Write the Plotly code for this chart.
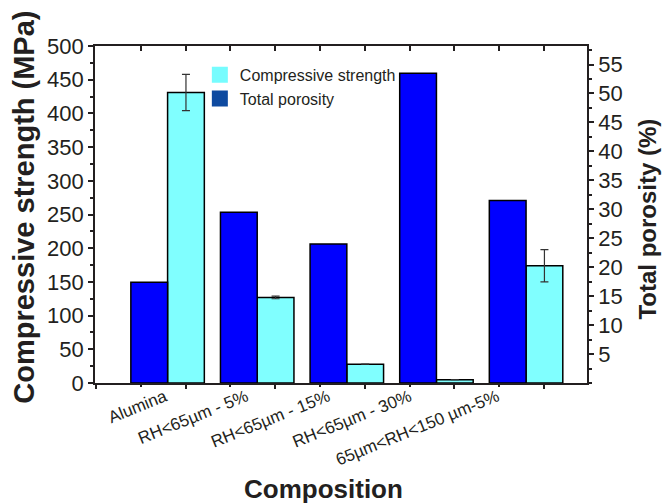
import plotly.graph_objects as go

categories = ["Alumina", "RH<65µm - 5%", "RH<65µm - 15%", "RH<65µm - 30%", "65µm<RH<150 µm-5%"]
strength = [431, 127, 28, 5, 174]
strength_err = [27, 2, 0, 0, 24]
porosity = [17.4, 29.5, 24.0, 53.5, 31.5]

left_ticks = list(range(0, 501, 50))
right_ticks = list(range(5, 56, 5))

TXT = "#231F20"
FONT = "Liberation Sans, Arial, sans-serif"
BW = 0.41

# layout-only: where the slanted category labels sit along the axis (in category units)
label_shift = [-0.03, -0.12, -0.21, -0.30, -0.32]
label_pos = [i + s for i, s in enumerate(label_shift)]

fig = go.Figure()

fig.add_trace(go.Bar(
    x=categories, y=porosity, yaxis="y2", name="Total porosity",
    marker=dict(color="#0000FF", line=dict(color="#000000", width=1.5)),
    width=BW, offset=-BW, showlegend=False,
))
fig.add_trace(go.Bar(
    x=categories, y=strength, yaxis="y", name="Compressive strength",
    marker=dict(color="#80FFFF", line=dict(color="#000000", width=1.5)),
    width=BW, offset=0, showlegend=False,
    error_y=dict(type="data", array=strength_err, visible=True,
                 color="#333333", thickness=1.2, width=4),
))

# legend entries
fig.add_trace(go.Scatter(x=[None], y=[None], mode="markers", name="Compressive strength",
                         marker=dict(symbol="square", size=16, color="#76FCFE")))
fig.add_trace(go.Scatter(x=[None], y=[None], mode="markers", name="Total porosity",
                         marker=dict(symbol="square", size=16, color="#0E4AA0")))

# dummy traces for the helper axes
for ax in ("x2", "x3", "x4"):
    fig.add_trace(go.Scatter(x=[None], y=[None], xaxis=ax, yaxis="y", showlegend=False, hoverinfo="skip"))

xr = [-0.81, 4.68]
major_x = [-0.8 + k for k in range(6)]
minor_x = [-0.3 + k for k in range(5)]

fig.update_layout(
    width=665, height=504,
    margin=dict(l=95, r=78, t=46, b=121),
    paper_bgcolor="white", plot_bgcolor="white",
    barmode="overlay",
    font=dict(family=FONT, color=TXT),
    xaxis=dict(
        type="category", range=xr, showline=True, linecolor=TXT, linewidth=1.8,
        mirror=True, ticks="", showticklabels=False, showgrid=False, zeroline=False,
    ),
    xaxis2=dict(
        overlaying="x", anchor="y", side="bottom", range=xr, showgrid=False, zeroline=False,
        showticklabels=False, ticks="outside", tickvals=major_x, ticklen=5, tickwidth=1.5, tickcolor=TXT,
        minor=dict(tickvals=minor_x, ticks="outside", ticklen=3, tickwidth=1.5, tickcolor=TXT),
        showline=False,
    ),
    xaxis3=dict(
        overlaying="x", anchor="y", side="top", range=xr, showgrid=False, zeroline=False,
        showticklabels=False, ticks="inside", tickvals=sorted(major_x + minor_x), ticklen=5,
        tickwidth=1.5, tickcolor=TXT, showline=False,
    ),
    xaxis4=dict(
        overlaying="x", anchor="y", side="bottom", range=xr, showgrid=False, zeroline=False,
        ticks="", tickvals=label_pos, ticktext=categories, tickangle=-22,
        tickfont=dict(size=17, color=TXT, family=FONT), showline=False,
    ),
    yaxis=dict(
        range=[0, 500], tickvals=left_ticks, ticks="outside", ticklen=5, tickwidth=1.5, tickcolor=TXT,
        minor=dict(dtick=25, tick0=0, ticks="outside", ticklen=3, tickwidth=1.5, tickcolor=TXT),
        showline=True, linecolor=TXT, linewidth=1.8, showgrid=False, zeroline=False,
        tickfont=dict(size=22, color=TXT, family=FONT),
    ),
    yaxis2=dict(
        overlaying="y", side="right", anchor="x", range=[0, 58.2], tickvals=right_ticks,
        ticks="outside", ticklen=5, tickwidth=1.5, tickcolor=TXT,
        minor=dict(dtick=2.5, tick0=0, ticks="outside", ticklen=3, tickwidth=1.5, tickcolor=TXT),
        showline=True, linecolor=TXT, linewidth=1.8, showgrid=False, zeroline=False,
        tickfont=dict(size=22, color=TXT, family=FONT),
    ),
    legend=dict(
        x=0.2131, y=0.965, xanchor="left", yanchor="top",
        bgcolor="rgba(0,0,0,0)", borderwidth=0,
        font=dict(size=16, color=TXT, family=FONT), tracegroupgap=0,
    ),
    showlegend=True,
)

fig.add_annotation(text="<b>Compressive strength (MPa)</b>", xref="paper", yref="paper",
                   x=-0.1451, y=0.522, textangle=-90, showarrow=False,
                   xanchor="center", yanchor="middle", font=dict(size=29, color=TXT, family=FONT))
fig.add_annotation(text="<b>Total porosity (%)</b>", xref="paper", yref="paper",
                   x=1.1227, y=0.486, textangle=-90, showarrow=False,
                   xanchor="center", yanchor="middle", font=dict(size=24, color=TXT, family=FONT))
fig.add_annotation(text="<b>Composition</b>", xref="paper", yref="paper",
                   x=0.4654, y=-0.316, showarrow=False,
                   xanchor="center", yanchor="middle", font=dict(size=26, color=TXT, family=FONT))

fig.write_html("out.html", config={"displayModeBar": False},
               post_script="document.body.style.margin='0';")
